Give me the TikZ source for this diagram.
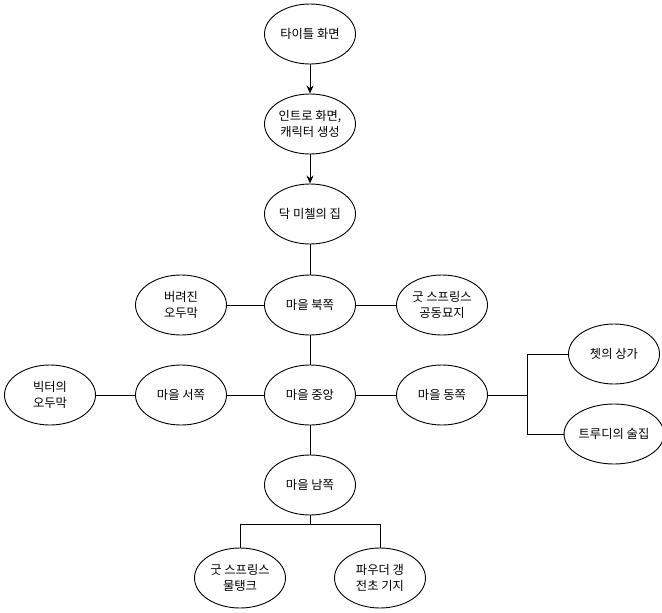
\documentclass[tikz,border=0pt]{standalone}
\usepackage{fontspec}
\setmainfont{Noto Sans CJK KR}
\usetikzlibrary{shapes.geometric,arrows.meta}
\begin{document}
\begin{tikzpicture}[x=1pt,y=-1pt,
  place/.style={ellipse,draw,line width=0.9pt,minimum width=91pt,minimum height=60pt,inner sep=0pt,align=center,font=\fontsize{12.3}{16}\selectfont},
  link/.style={line width=0.9pt},
  arr/.style={line width=0.9pt,-{Stealth[length=8pt,width=7pt]}}]
\useasboundingbox (0,0) rectangle (662,613);
\node[place] (title) at (310,34) {타이틀 화면};
\node[place] (intro) at (310,124) {인트로 화면,\\캐릭터 생성};
\node[place] (doc) at (310,214) {닥 미첼의 집};
\node[place] (north) at (310,305) {마을 북쪽};
\node[place] (aband) at (181,305) {버려진\\오두막};
\node[place] (cem) at (442,305) {굿 스프링스\\공동묘지};
\node[place] (center) at (310,395) {마을 중앙};
\node[place] (west) at (181,395) {마을 서쪽};
\node[place] (victor) at (50,395) {빅터의\\오두막};
\node[place] (east) at (442,395) {마을 동쪽};
\node[place] (chet) at (614,354) {쳇의 상가};
\node[place] (trudy) at (614,434) {트루디의 술집};
\node[place] (south) at (310,485) {마을 남쪽};
\node[place] (tank) at (240,578) {굿 스프링스\\물탱크};
\node[place] (powder) at (380,578) {파우더 갱\\전초 기지};
\coordinate (eb) at (527,395);
\coordinate (sb) at (310,524);
\draw[arr] (title) -- (intro);
\draw[arr] (intro) -- (doc);
\draw[link] (doc) -- (north);
\draw[link] (aband) -- (north);
\draw[link] (north) -- (cem);
\draw[link] (north) -- (center);
\draw[link] (victor) -- (west);
\draw[link] (west) -- (center);
\draw[link] (center) -- (east);
\draw[link] (center) -- (south);
\draw[link] (east) -- (eb);
\draw[link] (eb) |- (chet);
\draw[link] (eb) |- (trudy);
\draw[link] (south) -- (sb);
\draw[link] (sb) -| (tank);
\draw[link] (sb) -| (powder);
\end{tikzpicture}
\end{document}
